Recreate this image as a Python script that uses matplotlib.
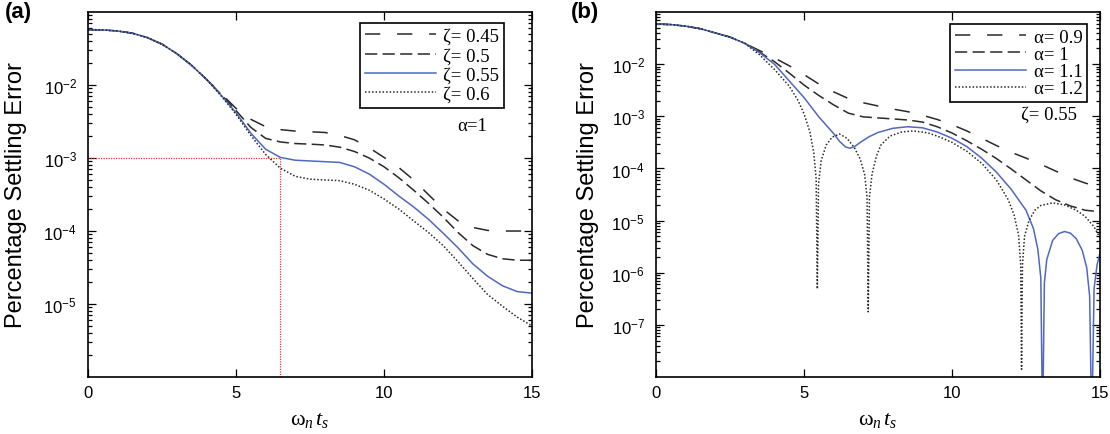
import math

import matplotlib
matplotlib.use("Agg")
import matplotlib.pyplot as plt
from matplotlib.ticker import FixedLocator, LogLocator, NullFormatter, FuncFormatter

plt.rcParams["font.family"] = ["Liberation Sans", "DejaVu Sans"]
plt.rcParams["mathtext.fontset"] = "custom"
plt.rcParams["mathtext.rm"] = "Liberation Serif"
plt.rcParams["mathtext.it"] = "Liberation Serif:italic"
plt.rcParams["mathtext.sf"] = "Liberation Sans"

# ---- panel (a): alpha = 1, varying zeta ----
t_a = [0, 0.5, 1, 1.5, 2, 2.5, 3, 3.5, 4, 4.5, 5, 5.5, 6, 6.5, 7, 7.5,
       8, 8.5, 9, 9.5, 10, 10.5, 11, 11.5, 12, 12.5, 13, 13.5, 14, 14.5, 15]
zeta_045 = [5.75e-2, 5.69e-2, 5.50e-2, 5.13e-2, 4.47e-2, 3.63e-2, 2.69e-2, 1.86e-2, 1.20e-2,
            7.59e-3, 4.79e-3, 3.39e-3, 2.69e-3, 2.45e-3, 2.34e-3, 2.29e-3, 2.24e-3, 2.04e-3,
            1.78e-3, 1.38e-3, 1.02e-3, 7.41e-4, 5.01e-4, 3.16e-4, 2.00e-4, 1.38e-4, 1.12e-4,
            1.02e-4, 1.00e-4, 1.00e-4, 1.00e-4]
zeta_050 = [5.75e-2, 5.69e-2, 5.50e-2, 5.13e-2, 4.47e-2, 3.63e-2, 2.69e-2, 1.86e-2, 1.20e-2,
            7.41e-3, 4.47e-3, 2.63e-3, 1.86e-3, 1.66e-3, 1.58e-3, 1.55e-3, 1.51e-3, 1.41e-3,
            1.23e-3, 1.00e-3, 7.59e-4, 5.37e-4, 3.63e-4, 2.40e-4, 1.55e-4, 9.55e-5, 6.31e-5,
            4.79e-5, 4.17e-5, 3.98e-5, 3.98e-5]
zeta_055 = [5.75e-2, 5.69e-2, 5.50e-2, 5.13e-2, 4.47e-2, 3.63e-2, 2.69e-2, 1.86e-2, 1.20e-2,
            7.24e-3, 4.17e-3, 2.19e-3, 1.32e-3, 1.02e-3, 9.33e-4, 9.12e-4, 8.91e-4, 8.71e-4,
            7.59e-4, 6.03e-4, 4.37e-4, 3.02e-4, 2.14e-4, 1.45e-4, 9.33e-5, 5.89e-5, 3.55e-5,
            2.40e-5, 1.78e-5, 1.48e-5, 1.41e-5]
zeta_060 = [5.75e-2, 5.69e-2, 5.50e-2, 5.13e-2, 4.47e-2, 3.63e-2, 2.69e-2, 1.86e-2, 1.20e-2,
            7.08e-3, 3.98e-3, 2.04e-3, 1.12e-3, 7.24e-4, 5.62e-4, 5.13e-4, 5.01e-4, 4.90e-4,
            4.37e-4, 3.63e-4, 2.75e-4, 2.00e-4, 1.38e-4, 9.55e-5, 6.31e-5, 3.80e-5, 2.24e-5,
            1.35e-5, 9.33e-6, 6.61e-6, 5.01e-6]
target_error = 1e-3
settle_time = 6.5

# ---- panel (b): zeta = 0.55, varying alpha ----
t_b = [0, 0.5, 1, 1.5, 2, 2.5, 3, 3.5, 4, 4.5, 5, 5.5, 6, 6.5, 7, 7.5,
       8, 8.5, 9, 9.5, 10, 10.5, 11, 11.5, 12, 12.5, 13, 13.5, 14, 14.5, 15]
alpha_09 = [5.89e-2, 5.75e-2, 5.37e-2, 4.79e-2, 3.98e-2, 3.31e-2, 2.51e-2, 1.82e-2, 1.32e-2,
            9.33e-3, 6.31e-3, 4.17e-3, 2.95e-3, 2.19e-3, 1.82e-3, 1.58e-3, 1.38e-3, 1.23e-3,
            1.05e-3, 8.71e-4, 6.92e-4, 5.25e-4, 3.80e-4, 2.75e-4, 2.04e-4, 1.58e-4, 1.20e-4,
            8.91e-5, 6.61e-5, 5.25e-5, 4.37e-5]
alpha_10 = [5.89e-2, 5.75e-2, 5.37e-2, 4.79e-2, 3.98e-2, 3.31e-2, 2.51e-2, 1.70e-2, 1.12e-2,
            6.76e-3, 3.98e-3, 2.51e-3, 1.66e-3, 1.15e-3, 9.77e-4, 9.33e-4, 8.91e-4, 8.51e-4,
            7.76e-4, 6.31e-4, 4.79e-4, 3.39e-4, 2.34e-4, 1.55e-4, 9.77e-5, 6.03e-5, 3.72e-5,
            2.51e-5, 1.91e-5, 1.58e-5, 1.48e-5]
t_b11 = [0, 0.5, 1, 1.5, 2, 2.5, 3, 3.5, 4, 4.5, 5, 5.5, 6, 6.2, 6.4, 6.55, 6.7, 6.9, 7.2,
         7.5, 8, 8.5, 9, 9.5, 10, 10.5, 11, 11.5, 12, 12.5, 12.75, 12.9, 13.0, 13.06, 13.12,
         13.2, 13.4, 13.6, 13.8, 14.0, 14.2, 14.4, 14.55, 14.65, 14.72, 14.8, 14.9, 15.0]
alpha_11 = [5.89e-2, 5.75e-2, 5.37e-2, 4.79e-2, 3.98e-2, 3.31e-2, 2.51e-2,
            1.66e-2, 1.00e-2, 4.79e-3, 2.29e-3, 9.77e-4, 4.68e-4, 3.31e-4, 2.60e-4, 2.45e-4,
            2.60e-4, 3.16e-4, 4.07e-4, 4.90e-4, 5.89e-4, 6.31e-4, 6.03e-4, 5.01e-4, 3.80e-4,
            2.63e-4, 1.58e-4, 8.51e-5, 3.98e-5, 1.58e-5, 7.08e-6, 2.82e-6, 7.94e-7, 1e-9,
            6.31e-7, 1.78e-6, 4.17e-6, 5.62e-6, 6.17e-6, 5.75e-6, 4.47e-6, 2.69e-6, 1.26e-6,
            3.55e-7, 1e-9, 5.01e-7, 1.41e-6, 2.40e-6]
t_b12 = [0, 0.5, 1, 1.5, 2, 2.5, 3, 3.5, 4, 4.5, 4.8, 5.0, 5.2, 5.33, 5.41, 5.45, 5.49, 5.58,
         5.75, 5.95, 6.2, 6.45, 6.7, 6.9, 7.05, 7.13, 7.17, 7.21, 7.3, 7.45, 7.6, 7.9, 8.3,
         8.7, 9.2, 9.6, 10.0, 10.5, 11.0, 11.5, 11.9, 12.1, 12.25, 12.32, 12.35, 12.38,
         12.45, 12.6, 12.8, 13.0, 13.4, 13.8, 14.2, 14.5, 14.8, 15.0]
alpha_12 = [5.89e-2, 5.75e-2, 5.37e-2, 4.79e-2, 3.98e-2, 3.31e-2, 2.51e-2,
            1.51e-2, 7.94e-3, 3.80e-3, 2.00e-3, 1.12e-3, 5.01e-4, 2.00e-4, 6.31e-5, 4.9e-7,
            5.01e-5, 1.41e-4, 2.82e-4, 3.98e-4, 4.57e-4, 3.80e-4, 2.51e-4, 1.51e-4, 7.59e-5,
            2.82e-5, 1.78e-7, 2.82e-5, 7.94e-5, 1.74e-4, 2.82e-4, 4.17e-4, 5.01e-4, 5.25e-4,
            4.79e-4, 3.98e-4, 3.16e-4, 2.14e-4, 1.26e-4, 6.03e-5, 2.51e-5, 1.26e-5, 5.25e-6,
            1.41e-6, 1.41e-8, 1.41e-6, 5.01e-6, 1.00e-5, 1.58e-5, 1.95e-5, 2.19e-5, 2.00e-5,
            1.58e-5, 1.20e-5, 7.59e-6, 4.68e-6]

DARK = "#2a2a2a"
BLUE = "#5068c0"
STYLE_SPARSE = dict(color=DARK, lw=1.1, dashes=(10, 11))
STYLE_DENSE = dict(color=DARK, lw=1.1, dashes=(8, 3.5))
STYLE_SOLID = dict(color=BLUE, lw=1.1)
STYLE_DOT = dict(color=DARK, lw=1.1, dashes=(1, 1.3))
LEG_FONT = {"family": "Liberation Serif", "size": 13.5}


def _log_label(v, pos):
    e = int(round(math.log10(v)))
    return r"$\mathsf{10^{%d}}$" % e


def _style_axes(ax, ylim, yticks, ylabel_x):
    ax.set_xlim(0, 15)
    ax.set_yscale("log")
    ax.set_ylim(*ylim)
    ax.set_xticks([0, 5, 10, 15])
    ax.yaxis.set_major_locator(FixedLocator(yticks))
    ax.yaxis.set_major_formatter(FuncFormatter(_log_label))
    ax.yaxis.set_minor_locator(LogLocator(base=10, subs=range(2, 10), numticks=20))
    ax.yaxis.set_minor_formatter(NullFormatter())
    ax.tick_params(which="both", direction="in", top=True, right=True, width=0.9)
    ax.tick_params(axis="x", labelsize=12, pad=6)
    ax.tick_params(axis="y", labelsize=12, pad=8)
    ax.tick_params(which="major", length=6)
    ax.tick_params(which="minor", length=3)
    for s in ax.spines.values():
        s.set_linewidth(1.2)
    ax.set_ylabel("Percentage Settling Error", fontsize=17)
    ax.yaxis.set_label_coords(ylabel_x, 0.5)
    ax.set_xlabel(r"$\mathrm{\omega}_n\, t_s$", fontsize=16)
    ax.xaxis.set_label_coords(0.5, -0.085)


fig = plt.figure(figsize=(11.1, 4.35), dpi=100)
ax_a = fig.add_axes([0.0793, 0.131, 0.400, 0.839])
ax_b = fig.add_axes([0.591, 0.131, 0.400, 0.839])

# panel (a)
ax_a.plot([0, settle_time], [target_error, target_error], color="#e8392f", lw=0.9,
          dashes=(1, 1))
ax_a.plot([settle_time, settle_time], [1e-6, target_error], color="#e8392f", lw=0.9,
          dashes=(1, 1))
ax_a.plot(t_a, zeta_045, label="ζ= 0.45", **STYLE_SPARSE)
ax_a.plot(t_a, zeta_050, label="ζ= 0.5", **STYLE_DENSE)
ax_a.plot(t_a, zeta_055, label="ζ= 0.55", **STYLE_SOLID)
ax_a.plot(t_a, zeta_060, label="ζ= 0.6", **STYLE_DOT)
_style_axes(ax_a, (1e-6, 1e-1), [1e-2, 1e-3, 1e-4, 1e-5], -0.137)
handles, labels = ax_a.get_legend_handles_labels()
leg = ax_a.legend(handles[-4:], labels[-4:], loc="upper right",
                  bbox_to_anchor=(0.937, 0.970), borderaxespad=0, prop=LEG_FONT,
                  handlelength=3.8, handletextpad=0.4, labelspacing=0.12,
                  borderpad=0.25, fancybox=False, framealpha=1, edgecolor="black")
leg.get_frame().set_linewidth(1.2)
ax_a.text(0.865, 0.69, "α=1", transform=ax_a.transAxes, ha="center", va="center",
          family="Liberation Serif", fontsize=13.5)
fig.text(0.004, 0.972, "(a)", fontsize=16, fontweight="bold", va="center")

# panel (b)
ax_b.plot(t_b, alpha_09, label="α= 0.9", **STYLE_SPARSE)
ax_b.plot(t_b, alpha_10, label="α= 1", **STYLE_DENSE)
ax_b.plot(t_b11, alpha_11, label="α= 1.1", **STYLE_SOLID)
ax_b.plot(t_b12, alpha_12, label="α= 1.2", **STYLE_DOT)
_style_axes(ax_b, (1e-8, 1e-1), [1e-2, 1e-3, 1e-4, 1e-5, 1e-6, 1e-7], -0.128)
leg = ax_b.legend(loc="upper right", bbox_to_anchor=(0.971, 0.967), borderaxespad=0,
                  prop=LEG_FONT, handlelength=3.8, handletextpad=0.4, labelspacing=0.0,
                  borderpad=0.25, fancybox=False, framealpha=1, edgecolor="black")
leg.get_frame().set_linewidth(1.2)
ax_b.text(0.885, 0.72, "ζ= 0.55", transform=ax_b.transAxes, ha="center", va="center",
          family="Liberation Serif", fontsize=13.5)
fig.text(0.514, 0.972, "(b)", fontsize=16, fontweight="bold", va="center")

fig.savefig("out.png", dpi=100)
